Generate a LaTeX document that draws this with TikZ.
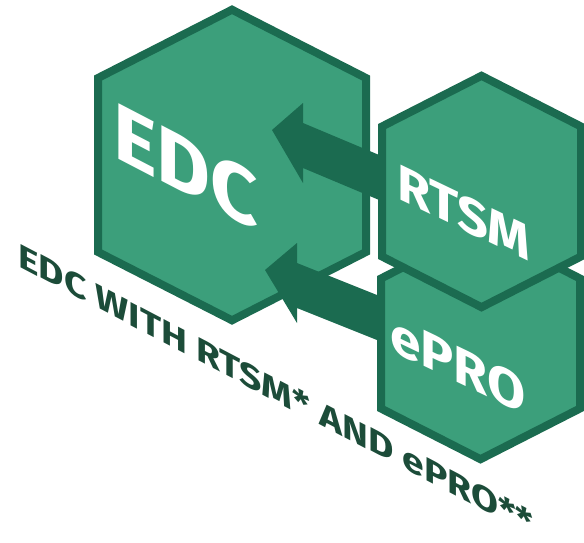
\documentclass[tikz,border=0pt]{standalone}
\usepackage{fontspec}
\setmainfont{Fira Sans}
\usepackage{graphicx}
\definecolor{hexfill}{RGB}{60,159,123}
\definecolor{hexline}{RGB}{27,107,80}
\definecolor{captxt}{RGB}{28,76,57}
\begin{document}
\begin{tikzpicture}[x=1pt,y=-1pt,
  hexagon/.style={fill=hexfill,draw=hexline,line width=8pt,line join=miter},
  blockarrow/.style={fill=hexline},
  hextext/.style={text=white,font=\bfseries,inner sep=0pt,anchor=base west},
  captext/.style={text=captxt,font=\bfseries,inner sep=0pt,anchor=base west}]
\useasboundingbox (0,0) rectangle (584,543);
% EDC hexagon
\draw[hexagon] (232,9.7) -- (366,78) -- (366,252) -- (232,320.3) -- (98,252) -- (98,78) -- cycle;
% arrows into EDC
\fill[blockarrow] (272,130) -- (303,103) -- (303,123) -- (392,160.4) -- (392,205.4) -- (303,168) -- (303,183) -- cycle;
\fill[blockarrow] (265,270) -- (297,243) -- (297,263) -- (392,301) -- (392,346) -- (297,308) -- (297,323) -- cycle;
% ePRO hexagon
\draw[hexagon] (480.5,227.8) -- (580,278.5) -- (580,408.5) -- (480.5,459.2) -- (381,408.5) -- (381,278.5) -- cycle;
% RTSM hexagon
\draw[hexagon] (481.5,75.8) -- (581,126.5) -- (581,256.5) -- (481.5,307.2) -- (382,256.5) -- (382,126.5) -- cycle;
% texts
\node[hextext,yslant=-0.52] (edc) at (113,156) {\resizebox{145pt}{57pt}{EDC}};
\node[hextext,yslant=-0.48] (rtsm) at (397,198) {\resizebox{133pt}{36pt}{RTSM}};
\node[hextext,yslant=-0.48] (epro) at (390,350) {\resizebox{135pt}{37pt}{ePRO}};
\node[captext,yslant=-0.525] (cap) at (18,266) {\resizebox{515pt}{25pt}{EDC WITH RTSM* AND ePRO**}};
\end{tikzpicture}
\end{document}
